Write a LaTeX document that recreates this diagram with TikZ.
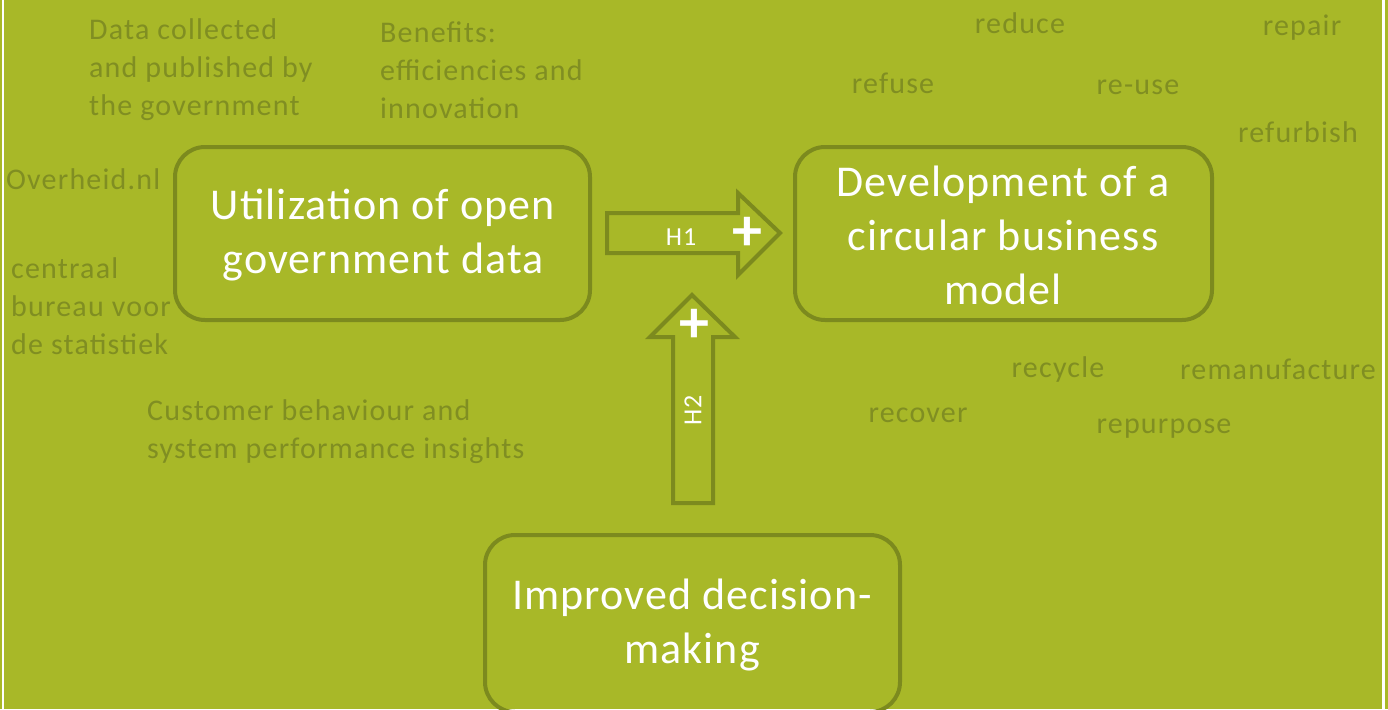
\documentclass[tikz,border=0pt]{standalone}
\usepackage{fontspec}
\setmainfont{Carlito}
\newfontfamily\notefont[LetterSpace=4]{Carlito}
\newfontfamily\boxfont[LetterSpace=2.5]{Carlito}
\usetikzlibrary{positioning}
\definecolor{leaf}{RGB}{168,184,40}
\definecolor{olive}{RGB}{124,138,30}
\definecolor{olivetext}{RGB}{128,142,34}

\begin{document}
\begin{tikzpicture}[
    x = 1pt, y = -1pt,
    bigbox/.style = {draw=olive, line width=4pt, rounded corners=30pt,
        inner sep=0pt},
    boxtext/.style = {text=white, align=center,
        font=\boxfont\fontsize{44}{54}\selectfont},
    note/.style = {text=olivetext, anchor=west, align=left, inner sep=0pt,
        font=\notefont\fontsize{30}{38}\selectfont},
    rword/.style = {text=olivetext, inner sep=0pt,
        font=\notefont\fontsize{30}{38}\selectfont},
    blockarrow/.style = {draw=olive, line width=4pt, line join=miter},
    hlabel/.style = {text=white, inner sep=0pt,
        font=\notefont\fontsize{26}{30}\selectfont},
    plus/.style = {text=white, inner sep=0pt,
        font=\fontsize{60}{60}\selectfont\bfseries}
  ]
  % background and frame
  \fill[leaf] (0,0) rectangle (1388,709);
  \useasboundingbox (0,0) rectangle (1388,709);
  \fill[white] (1.5,0) rectangle (3.5,709);
  \fill[white] (1382,0) rectangle (1384.5,709);

  % main boxes
  \draw[bigbox] (175,147) rectangle (590,320);
  \node[boxtext] (utilization) at (383,235) {Utilization of open\\government data};
  \draw[bigbox] (795,147) rectangle (1212,320);
  \node[boxtext] (development) at (1003,235) {Development of a\\circular business\\model};
  \draw[bigbox] (485,535) rectangle (900,712);
  \node[boxtext] (decision) at (692,625) {Improved decision-\\making};

  % hypothesis arrows
  \draw[blockarrow] (607,213) -- (738,213) -- (738,193) -- (780,233)
    -- (738,275) -- (738,253) -- (607,253) -- cycle;
  \node[hlabel] (h1) at (681,237) {H1};
  \node[plus] (p1) at (747,234) {+};
  \draw[blockarrow] (673,503) -- (673,337) -- (650,337) -- (692,295)
    -- (735,337) -- (713,337) -- (713,503) -- cycle;
  \node[hlabel, rotate=90] (h2) at (693,410) {H2};
  \node[plus] (p2) at (694,326) {+};

  % notes around the left box
  \node[note] (collected) at (89,70) {Data collected\\and published by\\the government};
  \node[note] (benefits) at (380,70) {Benefits:\\efficiencies and\\innovation};
  \node[note] (overheid) at (6,179) {Overheid.nl};
  \node[note] (cbs) at (11,306) {centraal\\bureau voor\\de statistiek};
  \node[note] (insights) at (147,432) {Customer behaviour and\\system performance insights};

  % R strategies
  \foreach \w/\x/\y in {reduce/1020/23, repair/1302/28, refuse/893/83,
      re-use/1138/87, refurbish/1298/132, recycle/1058/369,
      remanufacture/1278/369, recover/918/415, repurpose/1164/429}
    \node[rword] (\w) at (\x,\y) {\w};
\end{tikzpicture}
\end{document}
